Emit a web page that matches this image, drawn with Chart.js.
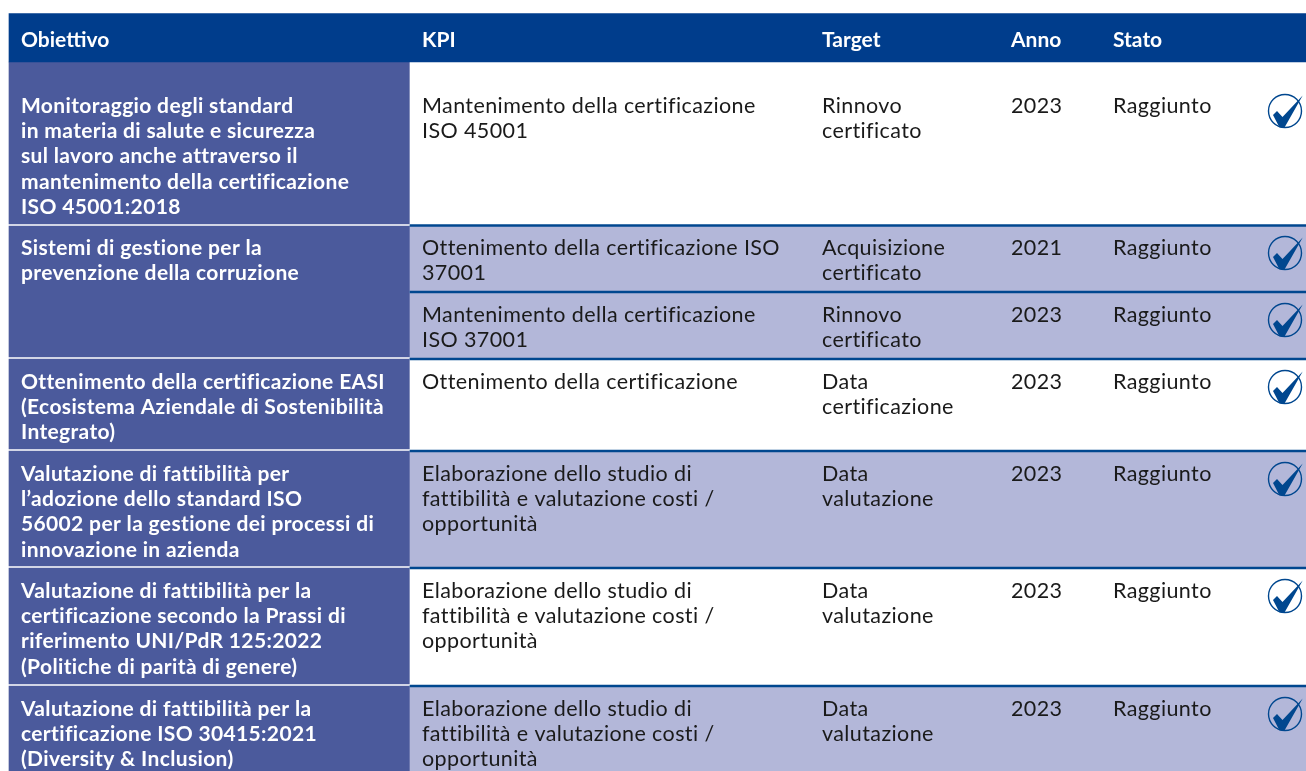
<!DOCTYPE html>
<html lang="it">
<head>
<meta charset="utf-8">
<title>Obiettivi</title>
<script src="https://cdn.jsdelivr.net/npm/chart.js@4"></script>
<style>
html, body { margin: 0; padding: 0; background: #fff; overflow: hidden; }
#wrap { width: 1306px; height: 771px; }
</style>
</head>
<body>
<div id="wrap"><canvas id="tableChart"></canvas></div>
<script>
// dati della tabella
const headers = ['Obiettivo', 'KPI', 'Target', 'Anno', 'Stato'];
const objectives = [
	['Monitoraggio degli standard', 'in materia di salute e sicurezza', 'sul lavoro anche attraverso il', 'mantenimento della certificazione', 'ISO 45001:2018'],
	['Sistemi di gestione per la', 'prevenzione della corruzione'],
	['Ottenimento della certificazione EASI', '(Ecosistema Aziendale di Sostenibilità', 'Integrato)'],
	['Valutazione di fattibilità per', 'l’adozione dello standard ISO', '56002 per la gestione dei processi di', 'innovazione in azienda'],
	['Valutazione di fattibilità per la', 'certificazione secondo la Prassi di', 'riferimento UNI/PdR 125:2022', '(Politiche di parità di genere)'],
	['Valutazione di fattibilità per la', 'certificazione ISO 30415:2021', '(Diversity & Inclusion)']
];
const kpis = [
	['Mantenimento della certificazione', 'ISO 45001'],
	['Ottenimento della certificazione ISO', '37001'],
	['Mantenimento della certificazione', 'ISO 37001'],
	['Ottenimento della certificazione'],
	['Elaborazione dello studio di', 'fattibilità e valutazione costi /', 'opportunità'],
	['Elaborazione dello studio di', 'fattibilità e valutazione costi /', 'opportunità'],
	['Elaborazione dello studio di', 'fattibilità e valutazione costi /', 'opportunità']
];
const targets = [
	['Rinnovo', 'certificato'],
	['Acquisizione', 'certificato'],
	['Rinnovo', 'certificato'],
	['Data', 'certificazione'],
	['Data', 'valutazione'],
	['Data', 'valutazione'],
	['Data', 'valutazione']
];
const years = [2023, 2021, 2023, 2023, 2023, 2023, 2023];
const states = ['Raggiunto', 'Raggiunto', 'Raggiunto', 'Raggiunto', 'Raggiunto', 'Raggiunto', 'Raggiunto'];

// impaginazione, in coordinate delle scale (0-1306, 0-771)
const layout = {
	rowEdges: [62, 225.5, 292, 359, 451, 568, 686, 771],
	objectiveEdges: [62, 226, 359, 451, 568, 686, 771],
	objectiveRows: [0, 1, 3, 4, 5, 6],
	baselines: [113, 255, 322, 389, 481, 598, 716],
	columns: [21, 422, 822, 1011, 1113],
	left: 9, split: 410, right: 1306, iconX: 1285,
	lineStep: 25.2, gap: 2
};
const colors = { header: '#003d8c', left: '#4b5a9c', band: '#b3b7d9', rule: '#00478f', text: '#1a1a1a' };
const bandFills = ['#ffffff', colors.band, colors.band, '#ffffff', colors.band, '#ffffff', colors.band];
const FONT = 'Lato';

function band(x0, x1, y0, y1, color, order) {
	return {
		type: 'bar', indexAxis: 'y', grouped: false, order: order,
		data: [{ x: [x0, x1], y: (y0 + y1) / 2 }],
		barThickness: y1 - y0,
		backgroundColor: color, borderWidth: 0, borderSkipped: false
	};
}

// icona di spunta usata come pointStyle
function checkIcon() {
	const c = document.createElement('canvas');
	c.width = 44; c.height = 44;
	const g = c.getContext('2d');
	g.translate(22, 22);
	g.strokeStyle = colors.rule;
	g.lineWidth = 1.4;
	g.beginPath();
	g.arc(0, 0, 16.5, 0, Math.PI * 2);
	g.stroke();
	g.fillStyle = colors.rule;
	g.beginPath();
	g.moveTo(-12, 4);
	g.lineTo(-8, 0);
	g.lineTo(-2.5, 6);
	g.lineTo(17.7, -15.5);
	g.lineTo(-0.5, 16.5);
	g.lineTo(-5.5, 16.5);
	g.closePath();
	g.fill();
	return c;
}

const datasets = [];
datasets.push({
	type: 'scatter', order: 0,
	data: layout.baselines.map(y => ({ x: layout.iconX, y: y - 2 })),
	pointStyle: checkIcon(), pointRadius: 22, showLine: false
});
// intestazione
datasets.push(band(layout.left, layout.right, 13.5, 62, colors.header, 3));
// fasce righe
bandFills.forEach((fill, i) => {
	datasets.push(band(layout.split, layout.right, layout.rowEdges[i], layout.rowEdges[i + 1], fill, 3));
});
// prima colonna
objectives.forEach((o, i) => {
	const end = i === objectives.length - 1 ? layout.objectiveEdges[i + 1] : layout.objectiveEdges[i + 1] - layout.gap;
	datasets.push(band(layout.left, layout.split, layout.objectiveEdges[i], end, colors.left, 3));
});
// filetti
layout.rowEdges.slice(1, -1).forEach(y => {
	datasets.push(band(layout.split, layout.right, y - 1, y + 1, colors.rule, 2));
});

const textPlugin = {
	id: 'tableText',
	afterDatasetsDraw(chart) {
		const ctx = chart.ctx, sx = chart.scales.x, sy = chart.scales.y;
		const put = (str, col, y) => ctx.fillText(str, sx.getPixelForValue(col), sy.getPixelForValue(y));
		ctx.save();
		ctx.textBaseline = 'alphabetic';
		ctx.textAlign = 'left';
		ctx.fillStyle = '#ffffff';
		ctx.font = 'bold 21px ' + FONT;
		headers.forEach((h, i) => put(h, layout.columns[i], 47));
		ctx.letterSpacing = '0.35px';
		objectives.forEach((lines, i) => {
			const base = layout.baselines[layout.objectiveRows[i]];
			lines.forEach((l, j) => put(l, layout.columns[0], base + j * layout.lineStep));
		});
		ctx.fillStyle = colors.text;
		ctx.font = '21.5px ' + FONT;
		ctx.letterSpacing = '0.4px';
		layout.baselines.forEach((base, i) => {
			kpis[i].forEach((l, j) => put(l, layout.columns[1], base + j * layout.lineStep));
			targets[i].forEach((l, j) => put(l, layout.columns[2], base + j * layout.lineStep));
			put(String(years[i]), layout.columns[3], base);
			put(states[i], layout.columns[4], base);
		});
		ctx.restore();
	}
};

new Chart(document.getElementById('tableChart'), {
	data: { datasets: datasets },
	options: {
		responsive: true,
		maintainAspectRatio: false,
		animation: false,
		layout: { padding: 0, autoPadding: false },
		plugins: { legend: { display: false }, tooltip: { enabled: false } },
		scales: {
			x: { type: 'linear', min: 0, max: 1306, display: false, offset: false },
			y: { type: 'linear', min: 0, max: 771, reverse: true, display: false, offset: false }
		}
	},
	plugins: [textPlugin]
});
</script>
</body>
</html>
